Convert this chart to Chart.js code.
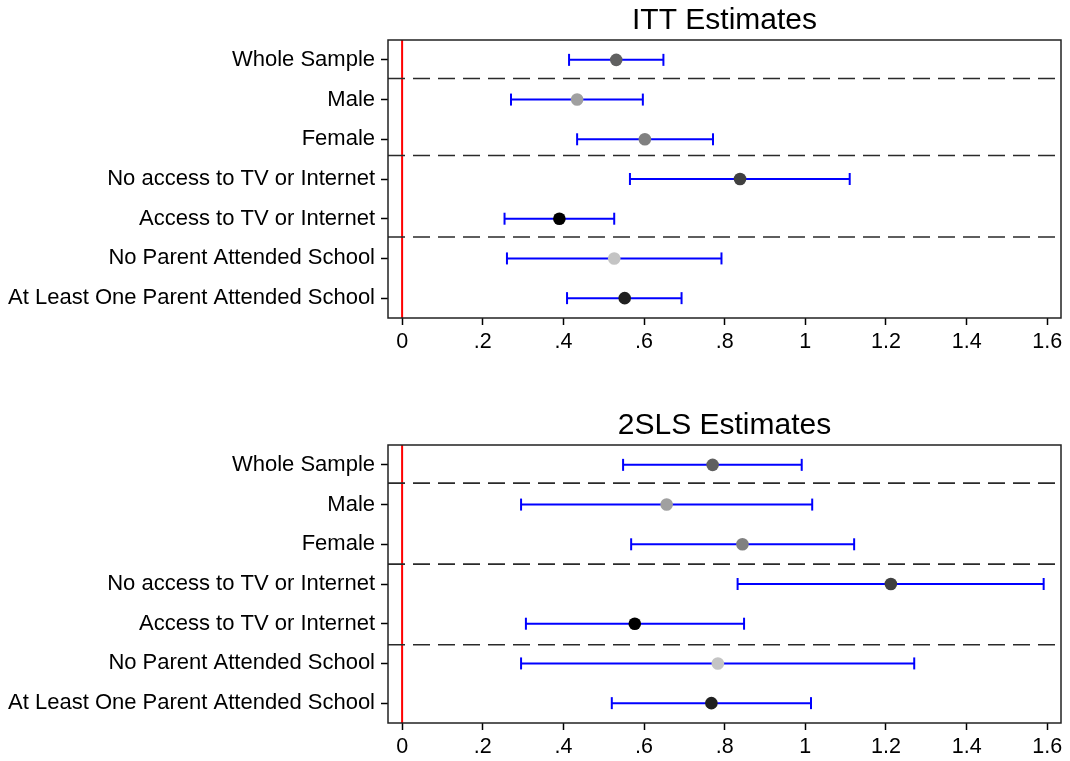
<!DOCTYPE html>
<html>
<head>
<meta charset="utf-8">
<script src="https://cdn.jsdelivr.net/npm/chart.js@4"></script>
<style>
  body { margin: 0; background: #fff; }
  .wrap { position: relative; width: 1070px; height: 761px; }
  canvas { position: absolute; left: 0; }
  #itt { top: 0; }
  #tsls { top: 405px; }
</style>
</head>
<body>
<div class="wrap">
  <canvas id="itt" width="1070" height="356"></canvas>
  <canvas id="tsls" width="1070" height="356"></canvas>
</div>
<script>
// categories (top to bottom)
const rowLabels = [
  'Whole Sample',
  'Male',
  'Female',
  'No access to TV or Internet',
  'Access to TV or Internet',
  'No Parent Attended School',
  'At Least One Parent Attended School'
];
const rowPos = [1, 2, 3, 4, 5, 6, 7];
const dotColors = ['#606060', '#a0a0a0', '#808080', '#404040', '#000000', '#c4c4c4', '#202020'];

// ITT estimates
const ittEst  = [0.531, 0.434, 0.602, 0.838, 0.390, 0.526, 0.552];
const ittLow  = [0.414, 0.270, 0.434, 0.565, 0.254, 0.260, 0.409];
const ittHigh = [0.648, 0.597, 0.771, 1.110, 0.526, 0.792, 0.693];
const ittSeparators = [1.47, 3.41, 5.46];

// 2SLS estimates
const tslsEst  = [0.770, 0.656, 0.844, 1.212, 0.577, 0.783, 0.767];
const tslsLow  = [0.548, 0.295, 0.568, 0.832, 0.307, 0.295, 0.520];
const tslsHigh = [0.991, 1.017, 1.121, 1.591, 0.848, 1.270, 1.014];
const tslsSeparators = [1.46, 3.50, 5.53];

// x axis
const xTicks = [0, 0.2, 0.4, 0.6, 0.8, 1, 1.2, 1.4, 1.6];
const xTickLabels = ['0', '.2', '.4', '.6', '.8', '1', '1.2', '1.4', '1.6'];
const xMin = -0.035;
const xMax = 1.634;

const FONT = '"Liberation Sans", Arial, Helvetica, sans-serif';

// box around the plot area
const framePlugin = {
  id: 'frame',
  afterDatasetsDraw(chart) {
    const { ctx, chartArea: a } = chart;
    ctx.save();
    ctx.strokeStyle = '#222';
    ctx.lineWidth = 1.5;
    ctx.strokeRect(a.left, a.top, a.right - a.left, a.bottom - a.top);
    ctx.restore();
  }
};

function makePanel(id, title, est, low, high, seps) {
  const dots = {
    data: rowPos.map((y, i) => ({ x: est[i], y })),
    pointBackgroundColor: dotColors,
    pointBorderWidth: 0,
    pointRadius: 6.3,
    showLine: false
  };
  const whiskers = rowPos.map((y, i) => ({
    data: [{ x: low[i], y }, { x: high[i], y }],
    showLine: true,
    borderColor: '#0000ff',
    borderWidth: 2,
    pointStyle: 'line',
    pointRotation: 90,
    pointRadius: 6,
    pointBorderColor: '#0000ff',
    pointBorderWidth: 2
  }));
  const sepLines = seps.map(s => ({
    data: [{ x: xMin, y: s }, { x: xMax, y: s }],
    showLine: true,
    borderColor: '#2a2a2a',
    borderWidth: 1.6,
    borderDash: [17, 8],
    pointRadius: 0
  }));
  const zeroLine = {
    data: [{ x: 0, y: 0.5 }, { x: 0, y: 7.5 }],
    showLine: true,
    borderColor: '#ff0000',
    borderWidth: 2,
    pointRadius: 0
  };

  return new Chart(document.getElementById(id), {
    type: 'scatter',
    data: { datasets: [dots, ...whiskers, ...sepLines, zeroLine] },
    options: {
      responsive: false,
      animation: false,
      devicePixelRatio: 1,
      layout: { padding: { left: 0, right: 9, top: 0, bottom: 0 } },
      plugins: {
        legend: { display: false },
        tooltip: { enabled: false },
        title: {
          display: true,
          text: title,
          fullSize: false,
          color: '#000',
          font: { family: FONT, size: 30, weight: 'normal' },
          padding: { top: 3, bottom: 1 }
        }
      },
      scales: {
        x: {
          type: 'linear',
          min: xMin,
          max: xMax,
          afterBuildTicks: (scale) => { scale.ticks = xTicks.map(v => ({ value: v })); },
          afterFit: (scale) => { scale.height = 38; },
          border: { display: false },
          grid: { drawOnChartArea: false, drawTicks: true, tickLength: 7, color: '#000', tickWidth: 1.5 },
          ticks: {
            color: '#000',
            font: { family: FONT, size: 21.5 },
            padding: 4,
            maxRotation: 0,
            autoSkip: false,
            callback: (v) => xTickLabels[xTicks.indexOf(v)]
          }
        },
        y: {
          type: 'linear',
          reverse: true,
          min: 0.5,
          max: 7.5,
          afterBuildTicks: (scale) => { scale.ticks = rowPos.map(v => ({ value: v })); },
          afterFit: (scale) => { scale.width = 388; },
          border: { display: false },
          grid: { drawOnChartArea: false, drawTicks: true, tickLength: 7, color: '#000', tickWidth: 1.5 },
          ticks: {
            color: '#000',
            font: { family: FONT, size: 22 },
            padding: 6,
            autoSkip: false,
            callback: (v) => rowLabels[rowPos.indexOf(v)]
          }
        }
      }
    },
    plugins: [framePlugin]
  });
}

makePanel('itt', 'ITT Estimates', ittEst, ittLow, ittHigh, ittSeparators);
makePanel('tsls', '2SLS Estimates', tslsEst, tslsLow, tslsHigh, tslsSeparators);
</script>
</body>
</html>
